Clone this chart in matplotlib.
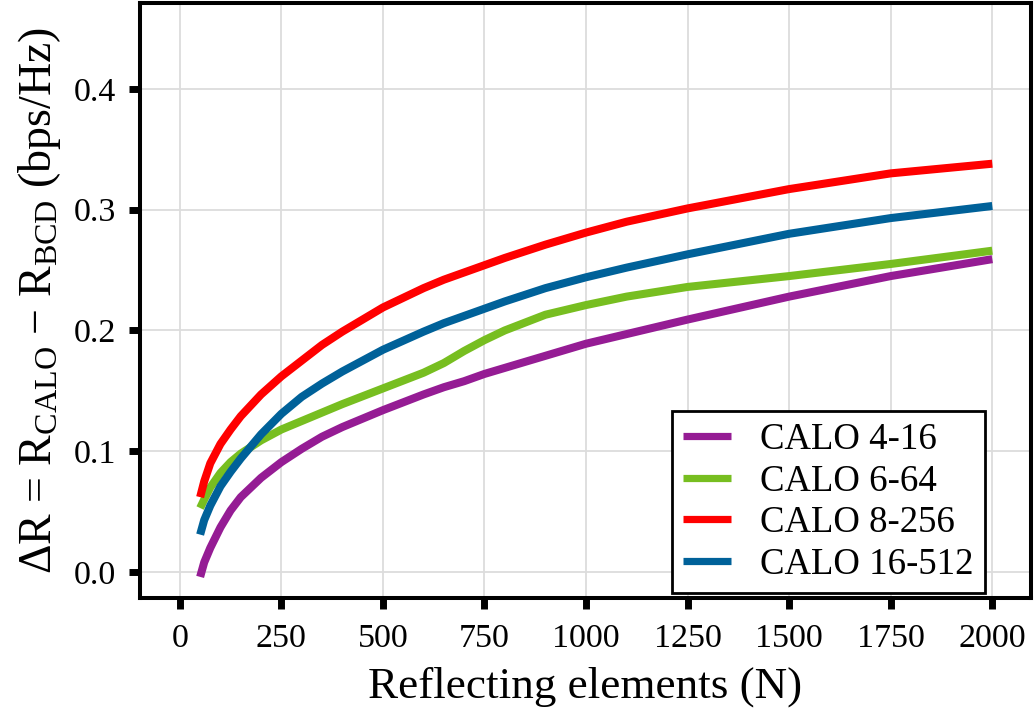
import matplotlib
matplotlib.use("Agg")
import matplotlib.pyplot as plt

plt.rcParams['font.family'] = ['Liberation Serif', 'DejaVu Serif']
plt.rcParams['mathtext.fontset'] = 'custom'
plt.rcParams['mathtext.rm'] = 'Liberation Serif'
plt.rcParams['mathtext.it'] = 'Liberation Serif:italic'

# ========== data ==========
n_elements = [50, 60, 75, 100, 125, 150, 200, 250, 300, 350, 400, 500, 600,
              650, 700, 750, 800, 900, 1000, 1100, 1250, 1500, 1750, 2000]

calo_4_16 = [-0.004, 0.008, 0.020, 0.037, 0.051, 0.062, 0.078, 0.091, 0.102,
             0.112, 0.120, 0.134, 0.147, 0.153, 0.158, 0.164, 0.169, 0.179,
             0.189, 0.197, 0.209, 0.228, 0.245, 0.259]
calo_6_64 = [0.053, 0.060, 0.070, 0.082, 0.091, 0.098, 0.109, 0.118, 0.125,
             0.132, 0.139, 0.152, 0.165, 0.173, 0.183, 0.192, 0.200, 0.213,
             0.221, 0.228, 0.236, 0.245, 0.255, 0.266]
calo_8_256 = [0.062, 0.075, 0.090, 0.106, 0.118, 0.129, 0.147, 0.162, 0.175,
              0.188, 0.199, 0.219, 0.235, 0.242, 0.248, 0.254, 0.260, 0.271,
              0.281, 0.290, 0.301, 0.317, 0.330, 0.338]
calo_16_512 = [0.031, 0.043, 0.055, 0.071, 0.083, 0.094, 0.114, 0.131, 0.145,
               0.156, 0.166, 0.184, 0.199, 0.206, 0.212, 0.218, 0.224, 0.235,
               0.244, 0.252, 0.263, 0.280, 0.293, 0.303]

labels = ['CALO 4-16', 'CALO 6-64', 'CALO 8-256', 'CALO 16-512']
colors = ['#951C94', '#77BE20', '#FF0000', '#006199']
x_ticks = [0, 250, 500, 750, 1000, 1250, 1500, 1750, 2000]
y_ticks = [0.0, 0.1, 0.2, 0.3, 0.4]


def plot_rate_gain():
    fig = plt.figure(figsize=(10.34, 7.2), dpi=100)
    ax = fig.add_axes([0.1354, 0.1694, 0.8616, 0.8264])

    series = [calo_4_16, calo_6_64, calo_8_256, calo_16_512]
    for ys, lab, col in zip(series, labels, colors):
        ax.plot(n_elements, ys, color=col, linewidth=5.8, label=lab,
                solid_capstyle='butt', solid_joinstyle='round')

    ax.set_xlim(-98, 2095)
    ax.set_ylim(-0.0215, 0.471)
    ax.set_xticks(x_ticks)
    ax.set_yticks(y_ticks)
    ax.set_yticklabels([f"{v:.1f}" for v in y_ticks])
    ax.grid(True, color='#DCDCDC', linewidth=1.3)
    ax.set_axisbelow(True)

    for sp in ax.spines.values():
        sp.set_linewidth(2.9)
    ax.tick_params(axis='x', direction='out', length=8, width=5,
                   labelsize=24.5, pad=10)
    ax.tick_params(axis='y', direction='out', length=8, width=5,
                   labelsize=24.5, pad=9)

    ax.set_xlabel("Reflecting elements (N)", fontsize=32.5, labelpad=9)
    ax.set_ylabel(r"$\Delta$R = R$_{\mathrm{CALO}}$ $-$ R$_{\mathrm{BCD}}$ (bps/Hz)",
                  fontsize=33, labelpad=8)

    leg = ax.legend(loc='lower right', bbox_to_anchor=(0.948, 0.008),
                    borderaxespad=0, fontsize=26.5, handlelength=1.3,
                    handletextpad=0.8, labelspacing=0.2, borderpad=0.3,
                    fancybox=False, framealpha=1, edgecolor='black')
    leg.get_frame().set_linewidth(2.0)
    for line in leg.get_lines():
        line.set_linewidth(5.2)

    fig.savefig("out.png", dpi=100)


plot_rate_gain()
